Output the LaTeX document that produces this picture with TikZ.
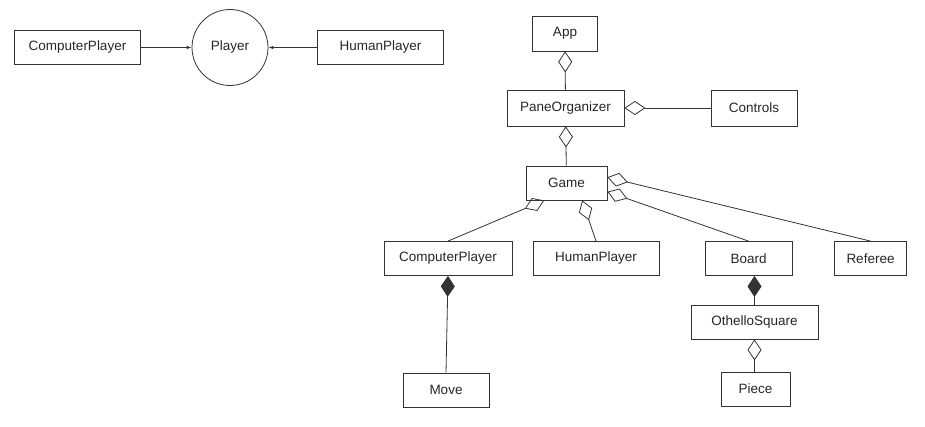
\documentclass[tikz,border=0pt]{standalone}
\usepackage{fontspec}
\setmainfont{Liberation Sans}
\usetikzlibrary{arrows.meta}

\begin{document}
\begin{tikzpicture}[x=1pt,y=-1pt,line width=0.8pt,
  classbox/.style={draw=black!80,rectangle,minimum height=34pt,inner sep=0pt,text=black!85,font=\fontsize{13.5}{16}\selectfont},
  agg/.style={draw=black!80,{Diamond[open,length=21pt,width=14pt]}-},
  comp/.style={draw=black!80,{Diamond[length=21pt,width=14pt]}-},
  uses/.style={draw=black!80,-{Latex[length=5pt,width=3.5pt]}}]
\useasboundingbox (0,0) rectangle (925,427);
% player hierarchy
\node[classbox,minimum width=126pt] (cpTop) at (77.5,47.5) {ComputerPlayer};
\node[classbox,circle,minimum size=76pt] (player) at (230,47.5) {Player};
\node[classbox,minimum width=126pt] (hpTop) at (380.5,47.5) {HumanPlayer};
\draw[uses] (cpTop) -- (player);
\draw[uses] (hpTop) -- (player);
% classes
\node[classbox,minimum width=65pt,minimum height=35pt] (app) at (565,33.5) {App};
\node[classbox,minimum width=117pt,minimum height=36pt] (pane) at (565.5,108) {PaneOrganizer};
\node[classbox,minimum width=86pt,minimum height=36pt] (controls) at (754,108) {Controls};
\node[classbox,minimum width=81pt] (game) at (566.5,183) {Game};
\node[classbox,minimum width=128pt] (cp) at (448,258.5) {ComputerPlayer};
\node[classbox,minimum width=126pt] (hp) at (596,258.5) {HumanPlayer};
\node[classbox,minimum width=87pt] (board) at (748.5,258.5) {Board};
\node[classbox,minimum width=72pt] (referee) at (870.5,258.5) {Referee};
\node[classbox,minimum width=127pt] (othello) at (754.5,322) {OthelloSquare};
\node[classbox,minimum width=86pt] (move) at (446,390) {Move};
\node[classbox,minimum width=69pt] (piece) at (755.5,389) {Piece};
% associations
\draw[agg] (app) -- (pane);
\draw[agg] (pane) -- (controls);
\draw[agg] (pane) -- (game);
\draw[agg] (game.218) -- (cp.north);
\draw[agg] (game.312) -- (hp.north);
\draw[agg] (game.-12) -- (board.north);
\draw[agg] (game.8) -- (referee.north);
\draw[comp] (cp.south) -- (move.north);
\draw[comp] (othello.north |- board.south) -- (othello.north);
\draw[agg] (othello.south) -- (othello.south |- piece.north);
\end{tikzpicture}
\end{document}
